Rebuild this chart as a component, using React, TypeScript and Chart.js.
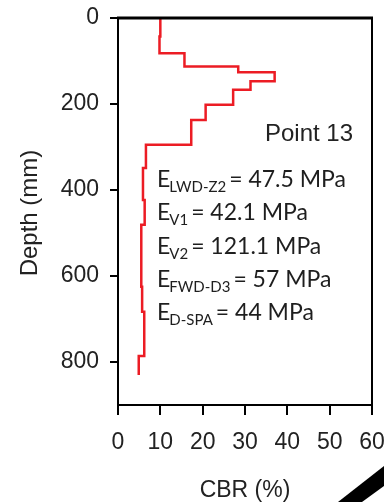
import React, { useEffect, useRef } from "react";
import { Chart, registerables } from "chart.js";

Chart.register(...registerables);

// CBR profile layers (depth in mm, CBR in %)
const layerTop = [0, 43, 82, 113, 126, 147, 167, 202, 237, 295, 349, 423, 481, 625, 683, 786];
const layerBottom = [43, 82, 113, 126, 147, 167, 202, 237, 295, 349, 423, 481, 625, 683, 786, 830];
const layerCBR = [10.0, 9.8, 15.7, 28.4, 37.0, 31.3, 27.2, 20.7, 17.3, 6.6, 5.9, 6.3, 5.5, 5.7, 6.2, 4.9];

const xTicks = [0, 10, 20, 30, 40, 50, 60];
const yTicks = [0, 200, 400, 600, 800];

const pointTitle = "Point 13";
const modSymbols = ["LWD-Z2", "V1", "V2", "FWD-D3", "D-SPA"];
const modValues = ["47.5", "42.1", "121.1", "57", "44"];

const xTitle = "CBR (%)";
const yTitle = "Depth (mm)";

export default function App() {
  const ref = useRef<HTMLCanvasElement | null>(null);

  useEffect(() => {
    const canvas = ref.current;
    if (!canvas) return;
    const pts: { x: number; y: number }[] = [];
    layerCBR.forEach((c, i) => {
      pts.push({ x: c, y: layerTop[i] });
      pts.push({ x: c, y: layerBottom[i] });
    });

    const overlay = {
      id: "overlay",
      afterDraw(chart: any) {
        const ctx = chart.ctx as CanvasRenderingContext2D;
        const a = chart.chartArea;
        ctx.save();
        // frame top & right
        ctx.strokeStyle = "#000";
        ctx.lineWidth = 3;
        ctx.beginPath();
        ctx.moveTo(a.left - 1, a.top);
        ctx.lineTo(a.right + 1, a.top);
        ctx.stroke();
        ctx.lineWidth = 2;
        ctx.beginPath();
        ctx.moveTo(a.right, a.top);
        ctx.lineTo(a.right, a.bottom);
        ctx.stroke();

        // title
        ctx.fillStyle = "#222";
        ctx.font = "24px 'Liberation Sans', Arial, sans-serif";
        ctx.textAlign = "left";
        ctx.textBaseline = "alphabetic";
        ctx.fillText(pointTitle, 265, 141);

        // moduli
        const x0 = 157;
        const baseY = 187;
        const step = 33.3;
        modSymbols.forEach((s, i) => {
          const y = baseY + i * step;
          ctx.fillStyle = "#1e1e1e";
          ctx.font = "23px Lato, 'Open Sans', sans-serif";
          ctx.fillText("E", x0, y);
          const wE = ctx.measureText("E").width;
          ctx.font = "15px Lato, 'Open Sans', sans-serif";
          ctx.fillText(s, x0 + wE - 1, y + 5);
          const wS = ctx.measureText(s).width;
          ctx.font = "23px Lato, 'Open Sans', sans-serif";
          ctx.fillText("= " + modValues[i] + " MPa", x0 + wE + wS + 2, y);
        });

        // axis titles
        ctx.fillStyle = "#222";
        ctx.font = "24px 'Liberation Sans', Arial, sans-serif";
        ctx.textAlign = "center";
        ctx.textBaseline = "middle";
        ctx.save();
        ctx.translate(30, 213);
        ctx.rotate(-Math.PI / 2);
        ctx.fillText(yTitle, 0, 0);
        ctx.restore();
        ctx.font = "23px 'Liberation Sans', Arial, sans-serif";
        ctx.fillText(xTitle, 245, 491);

        // decorative corner band
        ctx.fillStyle = "#000";
        ctx.beginPath();
        ctx.moveTo(338, 502);
        ctx.lineTo(384, 466);
        ctx.lineTo(384, 486);
        ctx.lineTo(362, 502);
        ctx.closePath();
        ctx.fill();
        ctx.restore();
      },
    };

    const chart = new Chart(canvas, {
      type: "line",
      data: {
        datasets: [
          {
            data: pts,
            borderColor: "#ec1c24",
            borderWidth: 2.5,
            pointRadius: 0,
            fill: false,
            tension: 0,
          },
        ],
      },
      options: {
        animation: false,
        responsive: false,
        layout: { padding: { top: 18, right: 12, left: 0, bottom: 0 } },
        plugins: { legend: { display: false }, tooltip: { enabled: false } },
        scales: {
          x: {
            type: "linear",
            min: 0,
            max: 60,
            afterFit: (s: any) => {
              s.height = 97;
              s.paddingLeft = 0;
              s.paddingRight = 0;
            },
            afterBuildTicks: (s: any) => {
              s.ticks = xTicks.map((v) => ({ value: v }));
            },
            ticks: {
              stepSize: 10,
              color: "#222",
              font: { size: 23, family: "'Liberation Sans', Arial, sans-serif" },
              padding: 14,
              maxRotation: 0,
              autoSkip: false,
            },
            grid: { drawOnChartArea: false, drawTicks: true, tickLength: 10, color: "#000", lineWidth: 2 },
            border: { color: "#000", width: 2 },
          },
          y: {
            type: "linear",
            reverse: true,
            min: 0,
            max: 900,
            afterFit: (s: any) => {
              s.width = 118;
              s.paddingTop = 0;
              s.paddingBottom = 0;
            },
            afterBuildTicks: (s: any) => {
              s.ticks = yTicks.map((v) => ({ value: v }));
            },
            ticks: {
              stepSize: 200,
              includeBounds: false,
              color: "#222",
              font: { size: 23, family: "'Liberation Sans', Arial, sans-serif" },
              padding: 11,
              autoSkip: false,
            },
            grid: { drawOnChartArea: false, drawTicks: true, tickLength: 8, color: "#000", lineWidth: 2 },
            border: { color: "#000", width: 2 },
          },
        },
      },
      plugins: [overlay],
    });
    return () => chart.destroy();
  }, []);

  return (
    <div style={{ position: "absolute", left: 0, top: 0, width: 384, height: 502, background: "#fff" }}>
      <canvas ref={ref} width={384} height={502} style={{ display: "block" }} />
    </div>
  );
}
